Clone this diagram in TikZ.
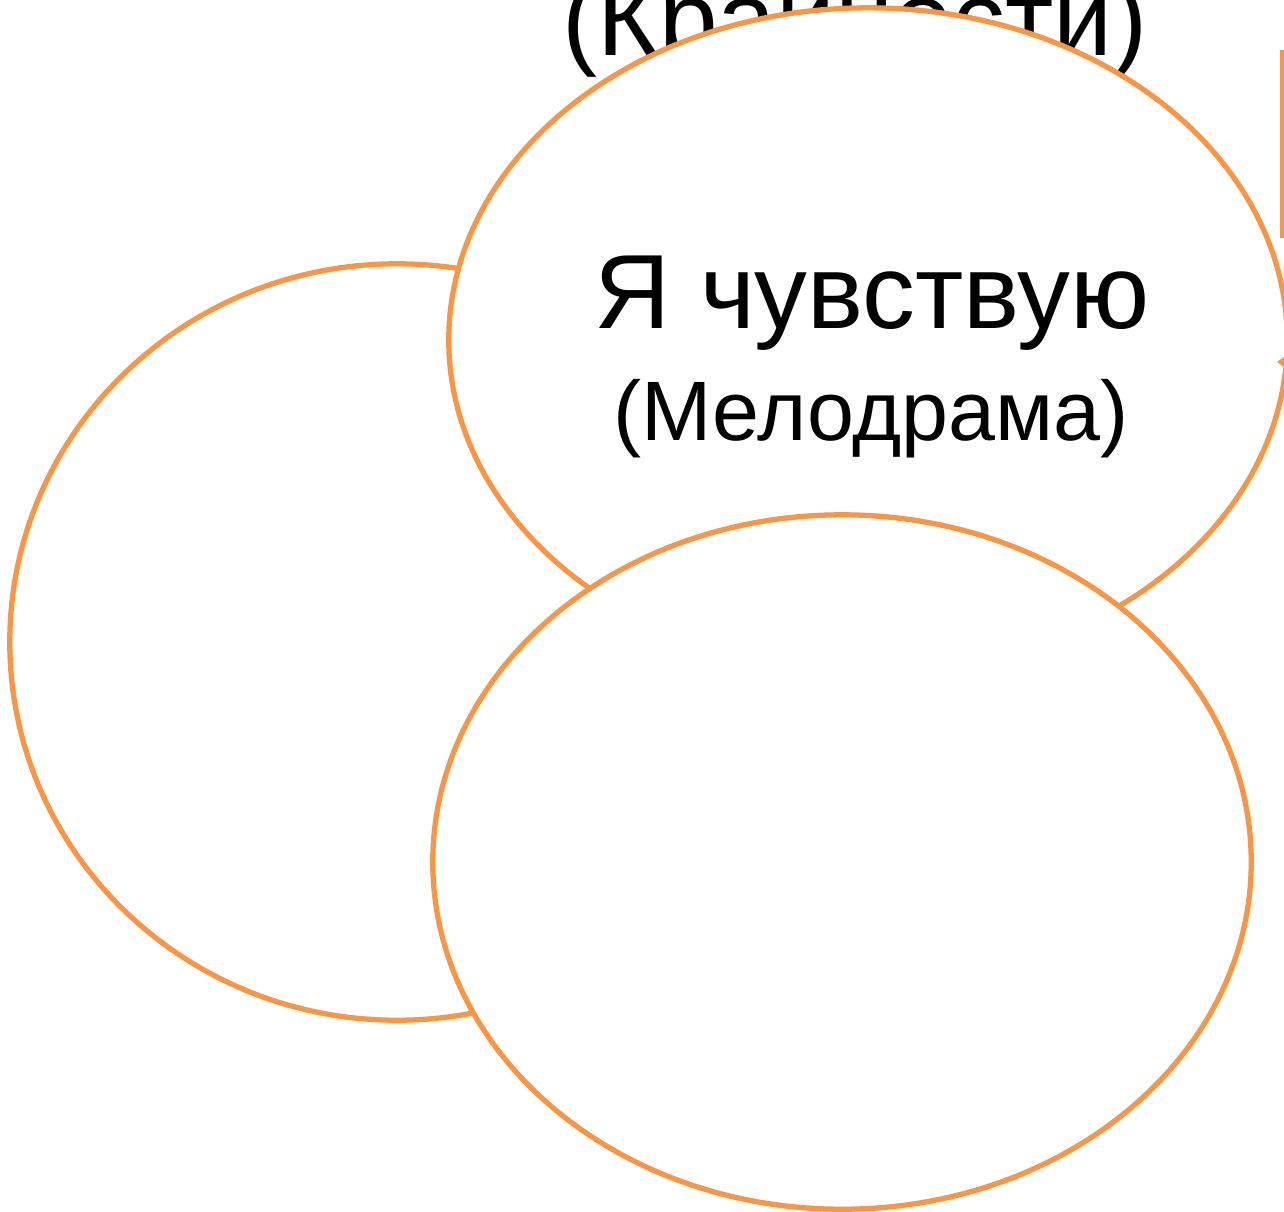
\documentclass[tikz,border=0pt]{standalone}
\usepackage{fontspec}
\setmainfont{Liberation Sans}
\usetikzlibrary{shapes.geometric,arrows.meta}
\definecolor{petal}{RGB}{247,150,70}
\tikzset{
  % orange outlined petals, white inside
  petalblob/.style={ellipse, draw=petal, fill=white, line width=1.5pt, inner sep=0pt},
  % big and small captions
  bigtxt/.style={font=\fontsize{30}{36}\selectfont, anchor=base, inner sep=0pt},
  subtxt/.style={font=\fontsize{24}{29}\selectfont, anchor=base, inner sep=0pt},
  % side box and its pointer
  boxln/.style={draw=petal, line width=1.5pt, inner sep=0pt},
  tipln/.style={-{Stealth[length=1.2mm,width=1.8mm]}, draw=petal, line width=1.5pt},
}

\begin{document}
\begin{tikzpicture}[x=0.01cm, y=-0.01cm]
    \useasboundingbox (0,0) rectangle (1284,1211);
    \clip (0,0) rectangle (1284,1211);
    % caption of the petal above, mostly hidden
    \node[bigtxt] (extremes) at (855,55) {(Крайности)};
    % left petal
    \node[petalblob, minimum width=7.74cm, minimum height=7.56cm] (leftpetal) at (397,642) {};
    % top petal with its caption
    \node[petalblob, minimum width=8.38cm, minimum height=6.64cm] (feelpetal) at (868,340) {};
    \node[bigtxt] (feel) at (872,328) {Я чувствую};
    \node[subtxt] (melo) at (871,440) {(Мелодрама)};
    % bottom petal
    \node[petalblob, minimum width=8.18cm, minimum height=6.94cm] (lowpetal) at (842,862) {};
    % box at the right edge and the pointer into the top petal
    \node[boxln, anchor=north west, minimum width=0.6cm, minimum height=1.83cm] (sidebox) at (1280,50) {};
    \coordinate (tipfrom) at (1330,362);
    \coordinate (tipto) at (1277,362);
    \draw[tipln] (tipfrom) -- (tipto);
\end{tikzpicture}
\end{document}
